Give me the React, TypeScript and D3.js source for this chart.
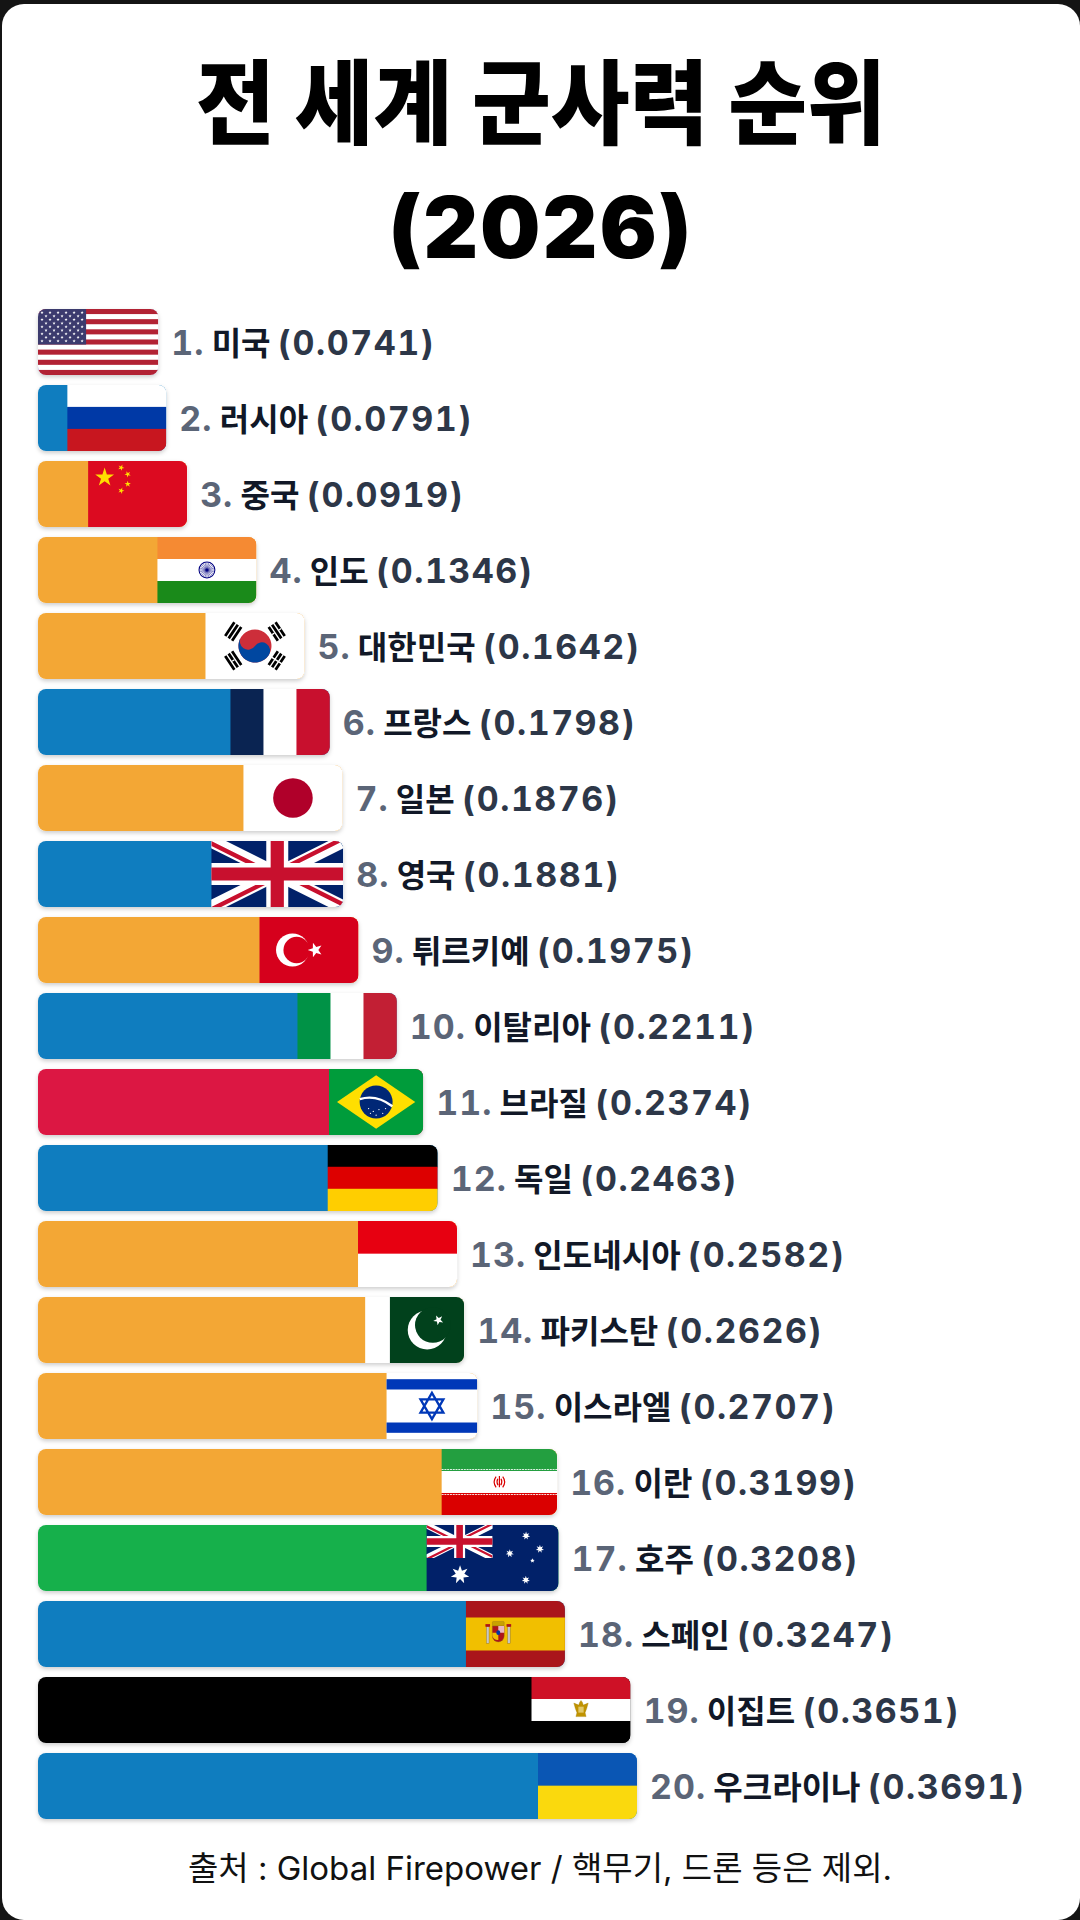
import React from 'react';
import * as d3 from 'd3';

const W = 1080;
const H = 1920;

const titleLines = ['전 세계 군사력 순위', '(2026)'];
const footnote = '출처 : Global Firepower / 핵무기, 드론 등은 제외.';

const countries = ['미국', '러시아', '중국', '인도', '대한민국', '프랑스', '일본', '영국', '튀르키예', '이탈리아', '브라질', '독일', '인도네시아', '파키스탄', '이스라엘', '이란', '호주', '스페인', '이집트', '우크라이나'];
const powerIndex = [0.0741, 0.0791, 0.0919, 0.1346, 0.1642, 0.1798, 0.1876, 0.1881, 0.1975, 0.2211, 0.2374, 0.2463, 0.2582, 0.2626, 0.2707, 0.3199, 0.3208, 0.3247, 0.3651, 0.3691];
const regions = ['NA', 'EU', 'AS', 'AS', 'AS', 'EU', 'AS', 'EU', 'AS', 'EU', 'SA', 'EU', 'AS', 'AS', 'AS', 'AS', 'OC', 'EU', 'AF', 'EU'];
const flagCodes = ['us', 'ru', 'cn', 'in', 'kr', 'fr', 'jp', 'gb', 'tr', 'it', 'br', 'de', 'id', 'pk', 'il', 'ir', 'au', 'es', 'eg', 'ua'];

const regionColor: Record<string, string> = {
  NA: '#6d5bd0',
  EU: '#0f7dbf',
  AS: '#f3a735',
  SA: '#dc1743',
  OC: '#16b04b',
  AF: '#000000',
};

const FLAG_SIZE: Record<string, [number, number]> = {
  us: [190, 100], ru: [9, 6], cn: [30, 20], in: [150, 100], kr: [144, 96],
  fr: [3, 2], jp: [150, 100], gb: [60, 30], tr: [30, 20], it: [3, 2],
  br: [100, 70], de: [5, 3], id: [3, 2], pk: [150, 100], il: [110, 80],
  ir: [175, 100], au: [60, 30], es: [150, 100], eg: [150, 100], ua: [3, 2],
};

function starPath(cx: number, cy: number, R: number, r: number, n: number, rotDeg = -90) {
  const pts: [number, number][] = [];
  for (let i = 0; i < 2 * n; i++) {
    const a = ((rotDeg + (i * 180) / n) * Math.PI) / 180;
    const rad = i % 2 === 0 ? R : r;
    pts.push([cx + rad * Math.cos(a), cy + rad * Math.sin(a)]);
  }
  return (d3.line()(pts) as string) + 'Z';
}

function HStripes({ cw, ch, colors }: { cw: number; ch: number; colors: string[] }) {
  const s = ch / colors.length;
  return (
    <g>
      {colors.map((c, i) => (
        <rect key={i} x={0} y={i * s - 0.01} width={cw} height={s + 0.02} fill={c} />
      ))}
    </g>
  );
}

function VStripes({ cw, ch, colors }: { cw: number; ch: number; colors: string[] }) {
  const s = cw / colors.length;
  return (
    <g>
      {colors.map((c, i) => (
        <rect key={i} x={i * s - 0.01} y={0} width={s + 0.02} height={ch} fill={c} />
      ))}
    </g>
  );
}

function UnionJack() {
  return (
    <g clipPath="url(#uj-s)">
      <rect width={60} height={30} fill="#012169" />
      <path d="M0,0 L60,30 M60,0 L0,30" stroke="#fff" strokeWidth={6} />
      <path d="M0,0 L60,30 M60,0 L0,30" clipPath="url(#uj-t)" stroke="#C8102E" strokeWidth={4} />
      <path d="M30,0 v30 M0,15 h60" stroke="#fff" strokeWidth={10} />
      <path d="M30,0 v30 M0,15 h60" stroke="#C8102E" strokeWidth={6} />
    </g>
  );
}

function FlagContent({ code }: { code: string }) {
  switch (code) {
    case 'us': {
      const cantonH = 700 / 13;
      const stars: React.ReactNode[] = [];
      for (let r = 0; r < 9; r++) {
        const n = r % 2 === 0 ? 6 : 5;
        for (let j = 0; j < n; j++) {
          const sx = r % 2 === 0 ? ((2 * j + 1) * 76) / 12 : ((2 * j + 2) * 76) / 12;
          const sy = ((r + 1) * cantonH) / 10;
          stars.push(<path key={`${r}-${j}`} d={starPath(sx, sy, 2.6, 1.05, 5)} fill="#fff" />);
        }
      }
      return (
        <g>
          <rect width={190} height={100} fill="#fff" />
          {d3.range(7).map((i) => (
            <rect key={i} x={0} y={(i * 200) / 13} width={190} height={100 / 13} fill="#b22234" />
          ))}
          <rect width={76} height={cantonH} fill="#3c3b6e" />
          {stars}
        </g>
      );
    }
    case 'ru':
      return <HStripes cw={9} ch={6} colors={['#ffffff', '#0039a6', '#c8161f']} />;
    case 'cn': {
      const small = [[10, 2], [12, 4], [12, 7], [10, 9]];
      return (
        <g>
          <rect width={30} height={20} fill="#dc0a20" />
          <path d={starPath(5, 5, 3, 1.15, 5)} fill="#ffde00" />
          {small.map(([sx, sy], i) => {
            const ang = (Math.atan2(5 - sy, 5 - sx) * 180) / Math.PI;
            return <path key={i} d={starPath(sx, sy, 1, 0.38, 5, ang)} fill="#ffde00" />;
          })}
        </g>
      );
    }
    case 'in':
      return (
        <g>
          <HStripes cw={150} ch={100} colors={['#f58a33', '#ffffff', '#1a8a1a']} />
          <circle cx={75} cy={50} r={12} fill="none" stroke="#000080" strokeWidth={1.6} />
          {d3.range(24).map((i) => {
            const a = (i * 15 * Math.PI) / 180;
            return (
              <line key={i} x1={75} y1={50} x2={75 + 11.5 * Math.cos(a)} y2={50 + 11.5 * Math.sin(a)} stroke="#000080" strokeWidth={0.7} />
            );
          })}
          <circle cx={75} cy={50} r={2.4} fill="#000080" />
        </g>
      );
    case 'kr': {
      const bars = (ys: number[]) => ys.map((yy) => `M-12,${yy}h24`).join('');
      return (
        <g transform="translate(72,48)">
          <rect x={-72} y={-48} width={144} height={96} fill="#fff" />
          <g transform="rotate(-56.31)">
            <path d={bars([-44, -38, -32, 32, 38, 44])} stroke="#000" strokeWidth={4} />
            <path d="M0,29v18" stroke="#fff" strokeWidth={2} />
            <circle r={24} fill="#cd2e3a" />
            <path d="M0-24A12 12 0 0 0 0 0A12 12 0 0 1 0 24A24 24 0 0 1 0-24z" fill="#0047a0" />
          </g>
          <g transform="rotate(-123.69)">
            <path d={bars([-44, -38, -32, 32, 38, 44])} stroke="#000" strokeWidth={4} />
            <path d="M0-40v4M0,30v4M0,42v4" stroke="#fff" strokeWidth={2} />
          </g>
        </g>
      );
    }
    case 'fr':
      return <VStripes cw={3} ch={2} colors={['#0a2452', '#ffffff', '#c8102e']} />;
    case 'jp':
      return (
        <g>
          <rect width={150} height={100} fill="#fff" />
          <circle cx={75} cy={50} r={30} fill="#b0002a" />
        </g>
      );
    case 'gb':
      return <UnionJack />;
    case 'tr':
      return (
        <g>
          <rect width={30} height={20} fill="#d6001c" />
          <circle cx={10} cy={10} r={5} fill="#fff" />
          <circle cx={11.25} cy={10} r={4} fill="#d6001c" />
          <path d={starPath(16.9, 10, 2.3, 0.92, 5, 180)} fill="#fff" />
        </g>
      );
    case 'it':
      return <VStripes cw={3} ch={2} colors={['#009246', '#ffffff', '#c21f34']} />;
    case 'br':
      return (
        <g>
          <rect width={100} height={70} fill="#009c3b" />
          <path d="M8.5,35 L50,6.5 L91.5,35 L50,63.5 Z" fill="#ffdf00" />
          <circle cx={50} cy={35} r={17.5} fill="#002776" />
          <path d="M32.7,32 Q50,26.5 67.2,39.5" stroke="#fff" strokeWidth={2.6} fill="none" />
          {[[42, 42], [47, 45], [53, 43], [57, 47], [50, 49], [44, 47], [60, 42]].map(([sx, sy], i) => (
            <circle key={i} cx={sx} cy={sy} r={0.7} fill="#fff" />
          ))}
        </g>
      );
    case 'de':
      return <HStripes cw={5} ch={3} colors={['#000000', '#dd0000', '#ffce00']} />;
    case 'id':
      return <HStripes cw={3} ch={2} colors={['#e70011', '#ffffff']} />;
    case 'pk':
      return (
        <g>
          <rect width={150} height={100} fill="#fff" />
          <rect x={37.5} width={112.5} height={100} fill="#01411c" />
          <circle cx={94} cy={50} r={29.5} fill="#fff" />
          <circle cx={102.5} cy={42.5} r={27} fill="#01411c" />
          <path d={starPath(111, 35, 8, 3.2, 5, -45)} fill="#fff" />
        </g>
      );
    case 'il': {
      const tri = (rot: number) => {
        const pts = [0, 1, 2].map((k) => {
          const a = ((rot + k * 120) * Math.PI) / 180;
          return `${55 + 16 * Math.cos(a)},${40 + 16 * Math.sin(a)}`;
        });
        return `M${pts.join('L')}Z`;
      };
      return (
        <g>
          <rect width={110} height={80} fill="#fff" />
          <rect y={7.5} width={110} height={12.5} fill="#0038b8" />
          <rect y={60} width={110} height={12.5} fill="#0038b8" />
          <path d={tri(-90) + tri(90)} fill="none" stroke="#0038b8" strokeWidth={2.8} />
        </g>
      );
    }
    case 'ir':
      return (
        <g>
          <HStripes cw={175} ch={100} colors={['#239f40', '#ffffff', '#da0000']} />
          <line x1={0} x2={175} y1={31} y2={31} stroke="#ffffff" strokeOpacity={0.85} strokeWidth={1.6} strokeDasharray="3 1.2" />
          <line x1={0} x2={175} y1={69} y2={69} stroke="#ffffff" strokeOpacity={0.85} strokeWidth={1.6} strokeDasharray="3 1.2" />
          <g stroke="#da0000" strokeWidth={1.8} fill="none">
            <path d="M87.5,41 v17" />
            <path d="M82.5,42 Q76.5,50 82.5,58" />
            <path d="M92.5,42 Q98.5,50 92.5,58" />
            <path d="M85,45 Q82.5,50 85.5,55" />
            <path d="M90,45 Q92.5,50 89.5,55" />
          </g>
        </g>
      );
    case 'au':
      return (
        <g>
          <rect width={60} height={30} fill="#012169" />
          <g transform="scale(0.5)">
            <UnionJack />
          </g>
          <path d={starPath(15.2, 22.6, 4.3, 2.0, 7)} fill="#fff" />
          <path d={starPath(45.2, 4.9, 1.9, 0.85, 7)} fill="#fff" />
          <path d={starPath(51.5, 10.9, 1.9, 0.85, 7)} fill="#fff" />
          <path d={starPath(37.8, 12.9, 1.9, 0.85, 7)} fill="#fff" />
          <path d={starPath(48.1, 16.2, 1.1, 0.48, 5)} fill="#fff" />
          <path d={starPath(45.1, 25, 1.9, 0.85, 7)} fill="#fff" />
        </g>
      );
    case 'es':
      return (
        <g>
          <rect width={150} height={100} fill="#aa151b" />
          <rect y={25} width={150} height={50} fill="#f1bf00" />
          <rect x={31} y={39} width={4} height={25} fill="#c7c7c7" stroke="#8c6d1f" strokeWidth={0.6} />
          <rect x={63} y={39} width={4} height={25} fill="#c7c7c7" stroke="#8c6d1f" strokeWidth={0.6} />
          <rect x={29.5} y={35} width={7} height={4} fill="#ad1519" />
          <rect x={61.5} y={35} width={7} height={4} fill="#ad1519" />
          <rect x={40} y={31} width={18} height={7} rx={1.5} fill="#c8a200" stroke="#8c6d1f" strokeWidth={0.5} />
          <path d="M40,38 h18 v15 a9,9 0 0 1 -18,0 z" fill="#ad1519" stroke="#8c6d1f" strokeWidth={0.6} />
          <path d="M49,38 h9 v10 h-9 z" fill="#e9b8c0" />
          <path d="M40,48 h9 v11 a9,9 0 0 1 -9,-6 z" fill="#f1bf00" />
          <ellipse cx={49} cy={48} rx={3} ry={3.5} fill="#0039a6" />
        </g>
      );
    case 'eg':
      return (
        <g>
          <HStripes cw={150} ch={100} colors={['#ce1126', '#ffffff', '#000000']} />
          <path
            d="M75,35.5 l2.2,3 l1.2,4 l7.5,-3 l-2.2,8 l-2.5,6.5 l1.5,6 h-15.4 l1.5,-6 l-2.5,-6.5 l-2.2,-8 l7.5,3 l1.2,-4 z"
            fill="#c09300"
            stroke="#a07c00"
            strokeWidth={0.5}
          />
          <rect x={71} y={45} width={8} height={9} fill="#e2c96a" />
        </g>
      );
    case 'ua':
      return <HStripes cw={3} ch={2} colors={['#0a56b4', '#fad90d']} />;
    default:
      return null;
  }
}

function Flag({ code, w, h }: { code: string; w: number; h: number }) {
  const [cw, ch] = FLAG_SIZE[code];
  return (
    <g transform={`scale(${w / cw},${h / ch})`}>
      <FlagContent code={code} />
    </g>
  );
}

const LABEL_FONT = "Inter, 'Noto Sans CJK KR', sans-serif";
const HANGUL_FONT = "'Noto Sans CJK KR', sans-serif";

export default function App() {
  const X0 = 38;
  const x = d3.scaleLinear().domain([0, d3.max(powerIndex) as number]).range([0, 599]);
  const y = d3
    .scaleBand<string>()
    .domain(countries)
    .range([309, 309 + countries.length * 76 - 10])
    .paddingInner(10 / 76)
    .paddingOuter(0);
  const bh = y.bandwidth();

  return (
    <div style={{ position: 'absolute', left: 0, top: 0, width: W, height: H }}>
      <svg width={W} height={H} viewBox={`0 0 ${W} ${H}`} style={{ display: 'block' }}>
        <defs>
          <clipPath id="uj-s">
            <rect x={0} y={0} width={60} height={30} />
          </clipPath>
          <clipPath id="uj-t">
            <path d="M30,15 h30 v15 z v15 h-30 z h-30 v-15 z v-15 h30 z" />
          </clipPath>
          <filter id="shadow" x="-5%" y="-20%" width="110%" height="150%">
            <feDropShadow dx={0} dy={2} stdDeviation={2} floodColor="#000" floodOpacity={0.2} />
          </filter>
          {countries.map((c, i) => (
            <clipPath key={c} id={`bar-${i}`}>
              <rect x={X0} y={y(c)} width={x(powerIndex[i])} height={bh} rx={8} />
            </clipPath>
          ))}
        </defs>

        <rect width={W} height={H} fill="#141414" />
        <rect x={2} y={4} width={W - 2} height={H - 4} rx={22} fill="#ffffff" />

        <text
          x={541}
          y={137}
          textAnchor="middle"
          fontFamily={HANGUL_FONT}
          fontWeight={900}
          fontSize={92}
          fill="#000"
          textLength={690}
          lengthAdjust="spacingAndGlyphs"
        >
          {titleLines[0]}
        </text>
        <text x={541} y={258} textAnchor="middle" fontFamily={LABEL_FONT} fontWeight={900} fontSize={85} letterSpacing={2} fill="#000">
          {titleLines[1]}
        </text>

        {countries.map((c, i) => {
          const v = powerIndex[i];
          const len = x(v);
          const by = y(c) as number;
          const code = flagCodes[i];
          const [cw, ch] = FLAG_SIZE[code];
          const fw = Math.min((bh * cw) / ch, len);
          const fx = X0 + len - fw;
          return (
            <g key={c}>
              <rect x={X0} y={by} width={len} height={bh} rx={8} fill="#fff" filter="url(#shadow)" />
              <g clipPath={`url(#bar-${i})`}>
                <rect x={X0} y={by} width={len} height={bh} fill={regionColor[regions[i]]} />
                <g transform={`translate(${fx},${by})`}>
                  <Flag code={code} w={fw} h={bh} />
                </g>
              </g>
              <text
                x={X0 + len + 13}
                y={by + bh / 2}
                dy={12.5}
                fontFamily={LABEL_FONT}
                fontWeight={700}
                fontSize={34}
                style={{ whiteSpace: 'pre', fontVariantNumeric: 'tabular-nums' }}
              >
                <tspan fill="#5b6577" letterSpacing={1}>{`${i + 1}.`}</tspan>
                <tspan fill="#111827" fontFamily={HANGUL_FONT} fontSize={32}>{` ${c} `}</tspan>
                <tspan fill="#2d3748" letterSpacing={1.5}>{`(${v.toFixed(4)})`}</tspan>
              </text>
            </g>
          );
        })}

        <text x={540} y={1880} textAnchor="middle" fontFamily={LABEL_FONT} fontWeight={400} fontSize={33} fill="#111">
          {footnote}
        </text>
      </svg>
    </div>
  );
}
